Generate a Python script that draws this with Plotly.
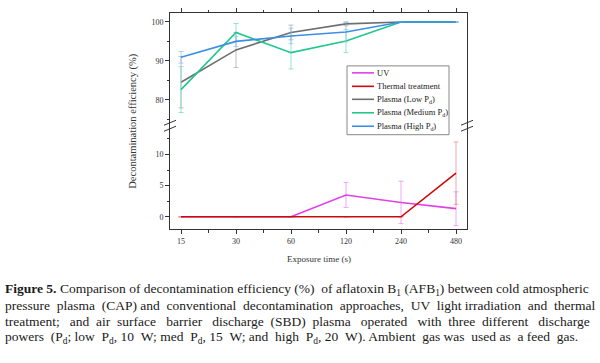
import plotly.graph_objects as go

# ---------------- data ----------------
times = ["15", "30", "60", "120", "240", "480"]

uv = [0, 0, 0, 3.5, 2.3, 1.3]
uv_err = [0, 0, 0, 2.0, 3.4, 2.7]
thermal = [0, 0, 0, 0, 0, 7.0]
thermal_err = [0, 0, 0, 0, 0, 5.0]

plasma_low = [84.5, 92.8, 97.3, 99.5, 100, 100]
plasma_low_err = [6.6, 4.5, 1.9, 0.5, 0, 0]
plasma_med = [82.6, 97.3, 92.1, 95.1, 100, 100]
plasma_med_err = [5.9, 2.3, 4.2, 3.0, 0, 0]
plasma_high = [90.9, 95.0, 96.4, 97.4, 100, 100]
plasma_high_err = [1.5, 1.3, 2.0, 2.5, 0, 0]

low_ticks = [0, 5, 10]
high_ticks = [80, 90, 100]

caption_lines = [
    "<b>Figure 5.</b> Comparison of decontamination efficiency (%) of aflatoxin B<sub>1</sub> (AFB<sub>1</sub>) between cold atmospheric",
    "pressure plasma (CAP) and conventional decontamination approaches, UV light irradiation and thermal",
    "treatment; and air surface barrier discharge (SBD) plasma operated with three different discharge",
    "powers (P<sub>d</sub>; low P<sub>d</sub>, 10 W; med P<sub>d</sub>, 15 W; and high P<sub>d</sub>, 20 W). Ambient gas was used as a feed gas.",
]
# extra non-breaking spaces to approximate the justified layout of the caption
caption_extra_spaces = [1, 9, 18, 12]

# ---------------- layout geometry ----------------
W, H = 600, 363
L, R, T, B = 170, 467, 13, 229.5
BREAK = 126
dom_split = (B - BREAK) / (B - T)

def px2x(px):
    return (px - L) / (R - L)

def px2y(py):
    return (B - py) / (B - T)

def justify(line, extra):
    words = line.split(" ")
    gaps = len(words) - 1
    if extra <= 0 or gaps <= 0:
        return line
    out = words[0]
    acc = 0
    for i, w in enumerate(words[1:]):
        target = round(extra * (i + 1) / gaps)
        n = target - acc
        acc = target
        out += " " + "\u00a0" * n + w
    return out

xi = list(range(len(times)))
FONT = "Liberation Serif"
AX = "#333333"

fig = go.Figure()
legend_items = []

def add(name, y, err, color, ecolor, xa, ya):
    fig.add_trace(go.Scatter(
        x=xi, y=y, name=name, mode="lines",
        line=dict(color=color, width=1.6),
        error_y=dict(type="data", array=err, color=ecolor, thickness=1, width=2.5),
        xaxis=xa, yaxis=ya, showlegend=False,
    ))
    legend_items.append((name, color))

add("UV", uv, uv_err, "#e040e8", "rgba(235,130,240,0.7)", "x", "y")
add("Thermal treatment", thermal, thermal_err, "#cc0a0a", "rgba(235,140,140,0.75)", "x", "y")
add("Plasma (Low P<sub>d</sub>)", plasma_low, plasma_low_err, "#6e6e6e", "rgba(150,150,150,0.6)", "x2", "y2")
add("Plasma (Medium P<sub>d</sub>)", plasma_med, plasma_med_err, "#1ec88a", "rgba(110,215,190,0.7)", "x2", "y2")
add("Plasma (High P<sub>d</sub>)", plasma_high, plasma_high_err, "#3d8ee8", "rgba(140,190,240,0.7)", "x2", "y2")

xcommon = dict(
    range=[-0.2, 5.2], tickvals=xi, ticktext=times,
    ticks="outside", ticklen=4, tickcolor=AX, showline=True, linecolor=AX, linewidth=1,
    minor=dict(ticks="outside", ticklen=2.5, dtick=0.5, tick0=0, tickcolor=AX),
    showgrid=False, zeroline=False,
    tickfont=dict(family=FONT, size=8, color=AX),
)
fig.update_layout(
    xaxis=dict(domain=[0, 1], anchor="y", **xcommon),
    xaxis2=dict(domain=[0, 1], anchor="y2", side="top", matches="x",
                showticklabels=False, **{k: v for k, v in xcommon.items() if k != "tickfont"}),
    yaxis=dict(domain=[0, dom_split], range=[-1.96, 14.6], tickvals=low_ticks,
               ticks="outside", ticklen=4, tickcolor=AX, showline=True, mirror=True,
               linecolor=AX, linewidth=1, showgrid=False, zeroline=False,
               minor=dict(ticks="outside", ticklen=2.5, dtick=2.5, tick0=0, tickcolor=AX),
               tickfont=dict(family=FONT, size=8, color=AX)),
    yaxis2=dict(domain=[dom_split, 1], range=[73.3, 102.3], tickvals=high_ticks,
                ticks="outside", ticklen=4, tickcolor=AX, showline=True, mirror=True,
                linecolor=AX, linewidth=1, showgrid=False, zeroline=False,
                minor=dict(ticks="outside", ticklen=2.5, dtick=5, tick0=0, tickcolor=AX),
                tickfont=dict(family=FONT, size=8, color=AX)),
    width=W, height=H,
    margin=dict(l=L, r=W - R, t=T, b=H - B, pad=0, autoexpand=False),
    paper_bgcolor="white", plot_bgcolor="white",
    showlegend=False,
)

shapes = []
# axis break marks
for xpx in (L, R):
    for ypx in (BREAK - 3, BREAK + 3):
        shapes.append(dict(type="line", xref="paper", yref="paper",
                           x0=px2x(xpx - 6), y0=px2y(ypx + 2.5),
                           x1=px2x(xpx + 6), y1=px2y(ypx - 2.5),
                           line=dict(color=AX, width=1)))

# custom legend box (drawn above plot lines)
LG_L, LG_R, LG_T, LG_B = 347, 449, 66, 135
shapes.append(dict(type="rect", xref="paper", yref="paper", layer="above",
                   x0=px2x(LG_L), x1=px2x(LG_R), y0=px2y(LG_B), y1=px2y(LG_T),
                   fillcolor="white", line=dict(color="#888888", width=1)))
ann = []
row_y = [73, 86.5, 99.5, 113, 126.5]
for (name, color), ypx in zip(legend_items, row_y):
    shapes.append(dict(type="line", xref="paper", yref="paper", layer="above",
                       x0=px2x(352), x1=px2x(374), y0=px2y(ypx), y1=px2y(ypx),
                       line=dict(color=color, width=1.6)))
    ann.append(dict(text=name, x=px2x(375), y=px2y(ypx), xref="paper", yref="paper",
                    showarrow=False, xanchor="left", yanchor="middle",
                    font=dict(family=FONT, size=8.5, color="#222")))
fig.update_layout(shapes=shapes)

ann += [
    dict(text="Decontamination efficiency (%)", x=px2x(133), y=px2y(121), textangle=-90,
         xref="paper", yref="paper", showarrow=False, xanchor="center", yanchor="middle",
         font=dict(family=FONT, size=10.5, color=AX)),
    dict(text="Exposure time (s)", x=px2x(319), y=px2y(260), xref="paper", yref="paper",
         showarrow=False, xanchor="center", yanchor="middle",
         font=dict(family=FONT, size=9, color=AX)),
]
for i, line in enumerate(caption_lines):
    ann.append(dict(text=justify(line, caption_extra_spaces[i]), x=px2x(3), y=px2y(290 + 16 * i),
                    xref="paper", yref="paper",
                    showarrow=False, xanchor="left", yanchor="middle", align="left",
                    font=dict(family=FONT, size=13.5, color="#1a1a1a")))
fig.update_layout(annotations=ann)

fig.write_html("out.html", config={"displayModeBar": False},
               post_script="document.body.style.margin='0';document.body.style.overflow='hidden';")
